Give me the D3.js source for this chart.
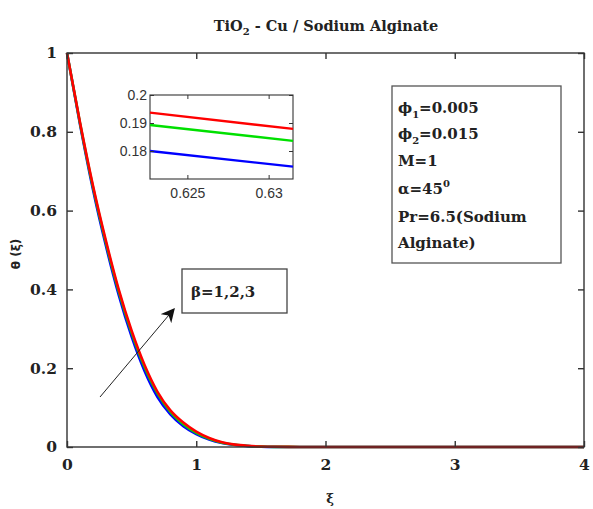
<!DOCTYPE html>
<html><head><meta charset="utf-8">
<script src="https://cdn.jsdelivr.net/npm/d3@7"></script>
<style>body{margin:0;background:#fff}svg{display:block}</style>
</head><body>
<svg id="c" width="593" height="509"></svg>
<script>
// ---- data ----
const xi      = [0, 0.1, 0.2, 0.3, 0.4, 0.5, 0.6, 0.7, 0.8, 0.9, 1.0, 1.1, 1.2, 1.3, 1.4, 1.5, 1.6, 1.8, 2.0, 2.5, 3.0, 3.5, 4.0];
const beta1   = [1, 0.820, 0.655, 0.512, 0.386, 0.280, 0.193, 0.127, 0.083, 0.053, 0.033, 0.019, 0.010, 0.005, 0.0022, 0.0009, 0.0003, 0.0001, 0, 0, 0, 0, 0];
const beta2   = [1, 0.823, 0.661, 0.520, 0.395, 0.290, 0.203, 0.136, 0.089, 0.058, 0.036, 0.021, 0.011, 0.0055, 0.0026, 0.0011, 0.0004, 0.0001, 0, 0, 0, 0, 0];
const beta3   = [1, 0.825, 0.665, 0.525, 0.400, 0.295, 0.208, 0.140, 0.093, 0.062, 0.039, 0.023, 0.012, 0.006, 0.003, 0.0013, 0.0005, 0.0001, 0, 0, 0, 0, 0];
const insetXi = [0.6227, 0.6315];
const insetB1 = [0.1800, 0.1744];
const insetB2 = [0.1893, 0.1836];
const insetB3 = [0.1937, 0.1879];
const xTicks = [0, 1, 2, 3, 4];
const yTicks = [0, 0.2, 0.4, 0.6, 0.8, 1];
const insetXTicks = [0.625, 0.63];
const insetYTicks = [0.18, 0.19, 0.2];
const seriesColors = ["#0000ff", "#00e000", "#ff0000"];
const paramLines = [["ϕ","1","=0.005"],["ϕ","2","=0.015"],["M=1","",""],["α=45","0",""],["Pr=6.5(Sodium","",""],["Alginate)","",""]];

const svg = d3.select("#c");
const L = 67, R = 584, T = 53, B = 447;
const x = d3.scaleLinear().domain([0, 4]).range([L, R]);
const y = d3.scaleLinear().domain([0, 1]).range([B, T]);
const serif = "DejaVu Serif, serif";
const axisCol = "#333";

// title
const title = svg.append("text").attr("x", 326).attr("y", 31).attr("text-anchor", "middle")
  .attr("font-family", serif).attr("font-weight", "bold").attr("font-size", 14.5).attr("fill", "#222");
title.append("tspan").text("TiO");
title.append("tspan").attr("font-size", 10).attr("dy", 4).text("2");
title.append("tspan").attr("dy", -4).text(" - Cu / Sodium Alginate");

// curves
const line = d3.line().x((d, i) => x(xi[i])).y(d => y(d)).curve(d3.curveMonotoneX);
[beta1, beta2, beta3].forEach((s, k) => {
  svg.append("path").attr("d", line(s)).attr("fill", "none")
    .attr("stroke", seriesColors[k]).attr("stroke-width", 2.6);
});

// frame + ticks
svg.append("rect").attr("x", L).attr("y", T).attr("width", R - L).attr("height", B - T)
  .attr("fill", "none").attr("stroke", axisCol).attr("stroke-width", 1.4);
const gB = svg.append("g").attr("transform", `translate(0,${B})`)
  .call(d3.axisBottom(x).tickValues(xTicks).tickSize(-6).tickPadding(12).tickFormat(d3.format("d")));
const gT = svg.append("g").attr("transform", `translate(0,${T})`)
  .call(d3.axisTop(x).tickValues(xTicks).tickSize(-6).tickFormat(""));
const gL = svg.append("g").attr("transform", `translate(${L},0)`)
  .call(d3.axisLeft(y).tickValues(yTicks).tickSize(-6).tickPadding(10).tickFormat(d => d === 0 || d === 1 ? d3.format("d")(d) : d3.format(".1f")(d)));
const gR = svg.append("g").attr("transform", `translate(${R},0)`)
  .call(d3.axisRight(y).tickValues(yTicks).tickSize(-6).tickFormat(""));
[gB, gT, gL, gR].forEach(g => {
  g.select(".domain").remove();
  g.selectAll(".tick line").attr("stroke", axisCol).attr("stroke-width", 1.4);
  g.selectAll("text").attr("font-family", serif).attr("font-weight", "bold")
    .attr("font-size", 15.5).attr("fill", "#222");
});

// axis labels
svg.append("text").attr("transform", "translate(20,254) rotate(-90)").attr("text-anchor", "middle")
  .attr("font-family", "DejaVu Sans, sans-serif").attr("font-weight", "bold").attr("font-size", 12)
  .attr("fill", "#222").text("θ (ξ)");
svg.append("text").attr("x", 330).attr("y", 503).attr("text-anchor", "middle")
  .attr("font-family", serif).attr("font-weight", "bold").attr("font-size", 13)
  .attr("fill", "#222").text("ξ");

// inset
const iL = 150, iR = 293, iT = 95, iB = 179;
const ix = d3.scaleLinear().domain([0.6227, 0.6315]).range([iL, iR]);
const iy = d3.scaleLinear().domain([0.17, 0.2]).range([iB, iT]);
svg.append("rect").attr("x", iL).attr("y", iT).attr("width", iR - iL).attr("height", iB - iT)
  .attr("fill", "#fff").attr("stroke", "#333").attr("stroke-width", 1.1);
const iline = d3.line().x((d, i) => ix(insetXi[i])).y(d => iy(d));
[insetB1, insetB2, insetB3].forEach((s, k) => {
  svg.append("path").attr("d", iline(s)).attr("fill", "none")
    .attr("stroke", seriesColors[k]).attr("stroke-width", 2.4);
});
const sans = "Liberation Sans, Arial, sans-serif";
const iB_ = svg.append("g").attr("transform", `translate(0,${iB})`)
  .call(d3.axisBottom(ix).tickValues(insetXTicks).tickSize(-4).tickPadding(9).tickFormat(d => String(d)));
const iT_ = svg.append("g").attr("transform", `translate(0,${iT})`)
  .call(d3.axisTop(ix).tickValues(insetXTicks).tickSize(-4).tickFormat(""));
const iL_ = svg.append("g").attr("transform", `translate(${iL},0)`)
  .call(d3.axisLeft(iy).tickValues(insetYTicks).tickSize(-4).tickPadding(3).tickFormat(d => String(d)));
const iR_ = svg.append("g").attr("transform", `translate(${iR},0)`)
  .call(d3.axisRight(iy).tickValues(insetYTicks).tickSize(-4).tickFormat(""));
[iB_, iT_, iL_, iR_].forEach(g => {
  g.select(".domain").remove();
  g.selectAll(".tick line").attr("stroke", "#333");
  g.selectAll("text").attr("font-family", sans).attr("font-size", 14).attr("fill", "#333");
});

// parameter box
svg.append("rect").attr("x", 392).attr("y", 86).attr("width", 169).attr("height", 177)
  .attr("fill", "#fff").attr("stroke", "#555").attr("stroke-width", 1.3);
const lineY = [113, 139, 166, 194, 222, 248];
paramLines.forEach((p, i) => {
  const t = svg.append("text").attr("x", 398).attr("y", lineY[i])
    .attr("font-family", serif).attr("font-weight", "bold").attr("font-size", 15).attr("fill", "#222");
  t.append("tspan").text(p[0]);
  if (p[1]) {
    const sub = (i < 2);
    t.append("tspan").attr("font-size", 10).attr("dy", sub ? 5 : -7).text(p[1]);
    if (p[2]) t.append("tspan").attr("dy", sub ? -5 : 7).text(p[2]);
  }
});

// beta box + arrow
svg.append("rect").attr("x", 182).attr("y", 269).attr("width", 105).attr("height", 44)
  .attr("fill", "#fff").attr("stroke", "#444").attr("stroke-width", 1.3);
svg.append("text").attr("x", 191).attr("y", 297).attr("font-family", serif).attr("font-weight", "bold")
  .attr("font-size", 15).attr("fill", "#222").text("β=1,2,3");
svg.append("defs").append("marker").attr("id", "ah").attr("viewBox", "0 0 10 10")
  .attr("refX", 9).attr("refY", 5).attr("markerWidth", 14).attr("markerHeight", 14)
  .attr("markerUnits", "userSpaceOnUse").attr("orient", "auto")
  .append("path").attr("d", "M0,0 L10,5 L0,10 L3,5 Z").attr("fill", "#111");
svg.append("line").attr("x1", 100).attr("y1", 397).attr("x2", 174).attr("y2", 309)
  .attr("stroke", "#222").attr("stroke-width", 1).attr("marker-end", "url(#ah)");
</script>
</body></html>
